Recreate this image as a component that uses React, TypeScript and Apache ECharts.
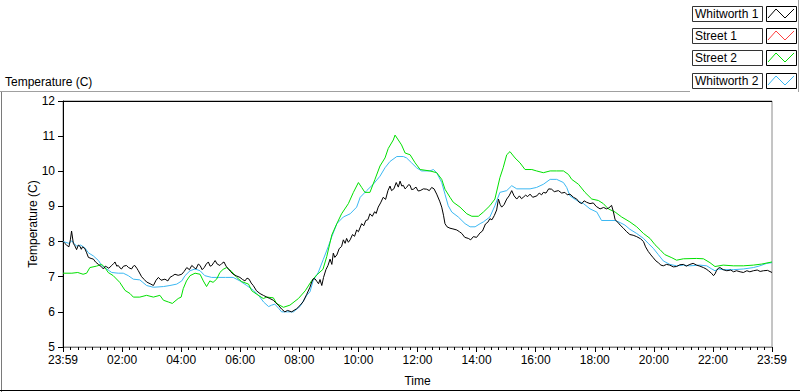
import React, { useEffect, useRef } from "react";
import * as echarts from "echarts";

const FONT = "Liberation Sans, Arial, sans-serif";

const seriesNames = ["Whitworth 1", "Street 1", "Street 2", "Whitworth 2"];
const seriesColors = ["#000000", "#ff0000", "#00e000", "#3cb8f2"];
const iconColors = ["#000000", "#ff4040", "#00e000", "#3cb8f2"];

const yTicks = [5, 6, 7, 8, 9, 10, 11, 12];
const xTickHours = [0, 2, 4, 6, 8, 10, 12, 14, 16, 18, 20, 22, 24];
const xTickLabels = ["23:59", "02:00", "04:00", "06:00", "08:00", "10:00", "12:00", "14:00", "16:00", "18:00", "20:00", "22:00", "23:59"];

// [hours after 23:59, temperature C]
const whitworth1: number[][] = [
  [0, 8.0], [0.06, 7.95], [0.12, 7.9], [0.2, 7.85], [0.25, 8.05], [0.29, 8.3], [0.35, 7.95], [0.4, 7.88], [0.46, 7.77], [0.52, 7.9],
  [0.57, 7.87], [0.62, 7.78], [0.66, 7.85], [0.74, 7.8], [0.8, 7.68], [0.86, 7.55], [0.95, 7.52], [1.03, 7.5], [1.1, 7.42],
  [1.2, 7.35], [1.28, 7.3], [1.37, 7.22], [1.43, 7.3], [1.48, 7.28], [1.55, 7.24], [1.65, 7.32], [1.72, 7.38], [1.76, 7.42],
  [1.82, 7.3], [1.87, 7.32], [1.93, 7.25], [1.98, 7.22], [2.05, 7.3], [2.15, 7.32], [2.22, 7.26], [2.32, 7.22], [2.38, 7.3],
  [2.43, 7.32], [2.5, 7.24], [2.55, 7.17], [2.66, 7.0], [2.75, 6.92], [2.83, 6.85], [2.95, 6.8], [3.06, 6.75], [3.15, 6.9],
  [3.23, 6.98], [3.32, 6.9], [3.45, 6.93], [3.55, 6.88], [3.62, 6.98], [3.7, 7.02], [3.79, 7.07], [3.9, 7.04], [4.02, 7.07],
  [4.1, 7.15], [4.19, 7.26], [4.28, 7.2], [4.36, 7.32], [4.44, 7.26], [4.5, 7.22], [4.58, 7.36], [4.64, 7.32], [4.71, 7.2],
  [4.78, 7.26], [4.85, 7.36], [4.92, 7.42], [4.98, 7.3], [5.04, 7.32], [5.1, 7.4], [5.15, 7.46], [5.22, 7.36], [5.31, 7.32],
  [5.38, 7.38], [5.45, 7.42], [5.52, 7.3], [5.6, 7.22], [5.68, 7.14], [5.76, 7.07], [5.88, 7.02], [5.99, 6.98], [6.08, 6.92],
  [6.16, 6.88], [6.23, 6.96], [6.3, 6.93], [6.37, 6.82], [6.44, 6.75], [6.55, 6.6], [6.67, 6.52], [6.78, 6.47], [6.9, 6.42],
  [7.0, 6.38], [7.12, 6.33], [7.2, 6.26], [7.29, 6.19], [7.4, 6.08], [7.51, 6.0], [7.6, 6.04], [7.74, 6.0], [7.91, 6.09],
  [8.02, 6.18], [8.13, 6.29], [8.25, 6.5], [8.36, 6.7], [8.42, 6.85], [8.47, 6.94], [8.53, 6.94], [8.6, 6.86], [8.65, 6.8],
  [8.7, 6.92], [8.76, 6.75], [8.82, 6.98], [8.9, 7.2], [8.97, 7.32], [9.04, 7.5], [9.1, 7.35], [9.15, 7.67], [9.2, 7.55],
  [9.27, 7.62], [9.35, 7.8], [9.43, 7.86], [9.49, 8.05], [9.55, 7.95], [9.6, 8.09], [9.66, 7.98], [9.72, 8.05], [9.8, 8.2],
  [9.87, 8.15], [9.94, 8.33], [10.0, 8.28], [10.11, 8.51], [10.18, 8.45], [10.25, 8.6], [10.32, 8.62], [10.39, 8.79],
  [10.47, 8.72], [10.55, 8.85], [10.6, 8.8], [10.67, 8.98], [10.75, 9.1], [10.84, 9.26], [10.92, 9.2], [11.0, 9.45],
  [11.07, 9.58], [11.12, 9.45], [11.2, 9.5], [11.28, 9.68], [11.35, 9.55], [11.41, 9.72], [11.47, 9.58], [11.52, 9.6],
  [11.58, 9.5], [11.63, 9.54], [11.7, 9.62], [11.75, 9.6], [11.8, 9.48], [11.86, 9.49], [11.95, 9.55], [12.02, 9.44],
  [12.09, 9.45], [12.2, 9.5], [12.31, 9.49], [12.4, 9.45], [12.48, 9.54], [12.56, 9.5], [12.65, 9.35], [12.75, 9.15],
  [12.82, 8.98], [12.88, 8.75], [12.93, 8.51], [13.0, 8.42], [13.1, 8.38], [13.2, 8.36], [13.33, 8.33], [13.42, 8.28],
  [13.5, 8.23], [13.6, 8.12], [13.72, 8.09], [13.8, 8.05], [13.89, 8.14], [14.0, 8.12], [14.12, 8.25], [14.2, 8.3], [14.3, 8.5],
  [14.38, 8.55], [14.45, 8.65], [14.52, 8.62], [14.6, 8.74], [14.68, 8.9], [14.74, 9.21], [14.8, 9.05], [14.85, 8.98],
  [14.93, 9.05], [15.02, 9.21], [15.1, 9.3], [15.19, 9.45], [15.27, 9.3], [15.36, 9.21], [15.45, 9.3], [15.52, 9.22],
  [15.58, 9.26], [15.66, 9.32], [15.73, 9.28], [15.81, 9.35], [15.9, 9.26], [16.04, 9.3], [16.12, 9.38], [16.2, 9.33],
  [16.26, 9.4], [16.35, 9.38], [16.44, 9.5], [16.54, 9.49], [16.63, 9.42], [16.77, 9.45], [16.88, 9.38], [16.99, 9.4],
  [17.07, 9.33], [17.16, 9.35], [17.28, 9.26], [17.39, 9.21], [17.47, 9.12], [17.56, 9.08], [17.64, 9.16], [17.72, 9.12],
  [17.84, 9.08], [17.95, 9.1], [18.05, 9.0], [18.18, 8.93], [18.3, 8.97], [18.4, 8.93], [18.48, 8.96], [18.57, 9.03],
  [18.63, 8.85], [18.69, 8.62], [18.78, 8.55], [18.86, 8.47], [18.97, 8.38], [19.08, 8.28], [19.19, 8.2], [19.3, 8.18],
  [19.42, 8.14], [19.55, 8.08], [19.65, 8.0], [19.72, 7.85], [19.81, 7.72], [19.9, 7.62], [19.98, 7.54], [20.07, 7.45],
  [20.15, 7.4], [20.24, 7.33], [20.32, 7.31], [20.43, 7.35], [20.54, 7.33], [20.66, 7.28], [20.77, 7.29], [20.88, 7.34],
  [21.0, 7.35], [21.1, 7.3], [21.22, 7.35], [21.33, 7.38], [21.45, 7.33], [21.56, 7.3], [21.68, 7.26], [21.77, 7.22],
  [21.85, 7.17], [21.95, 7.1], [22.02, 7.03], [22.07, 7.08], [22.12, 7.17], [22.18, 7.24], [22.24, 7.26], [22.35, 7.2],
  [22.47, 7.17], [22.6, 7.19], [22.7, 7.14], [22.8, 7.17], [22.92, 7.14], [23.03, 7.12], [23.15, 7.17], [23.25, 7.14],
  [23.37, 7.17], [23.5, 7.19], [23.6, 7.15], [23.71, 7.17], [23.85, 7.18], [24, 7.12],
];

const street1: number[][] = [];

const street2: number[][] = [
  [0, 7.1], [0.3, 7.1], [0.5, 7.12], [0.68, 7.07], [0.8, 7.1], [0.91, 7.26], [1.13, 7.3], [1.31, 7.35], [1.42, 7.26],
  [1.53, 7.12], [1.7, 7.03], [1.92, 6.84], [2.1, 6.61], [2.27, 6.52], [2.38, 6.42], [2.6, 6.42], [2.83, 6.47], [3.06, 6.42],
  [3.28, 6.47], [3.4, 6.33], [3.57, 6.28], [3.7, 6.24], [3.9, 6.38], [4.0, 6.42], [4.07, 6.66], [4.18, 6.88], [4.3, 7.03],
  [4.47, 7.1], [4.64, 7.07], [4.75, 6.88], [4.86, 6.72], [4.97, 6.88], [5.08, 6.84], [5.2, 6.93], [5.31, 7.12], [5.42, 7.21],
  [5.54, 7.26], [5.71, 7.15], [5.88, 6.98], [6.05, 6.86], [6.28, 6.79], [6.39, 6.6], [6.56, 6.5], [6.78, 6.38], [6.9, 6.42],
  [7.12, 6.4], [7.23, 6.24], [7.46, 6.13], [7.68, 6.19], [7.97, 6.38], [8.2, 6.6], [8.42, 6.89], [8.59, 7.05], [8.8, 7.21],
  [8.93, 7.58], [9.1, 8.19], [9.27, 8.51], [9.43, 8.79], [9.66, 9.08], [9.83, 9.4], [10.0, 9.68], [10.11, 9.54], [10.22, 9.4],
  [10.39, 9.4], [10.56, 9.77], [10.73, 10.15], [10.9, 10.38], [11.01, 10.65], [11.18, 10.89], [11.24, 11.03], [11.35, 10.89],
  [11.46, 10.75], [11.58, 10.52], [11.75, 10.47], [11.92, 10.24], [12.09, 10.05], [12.42, 10.01], [12.65, 9.96], [12.82, 9.77],
  [12.93, 9.49], [13.1, 9.26], [13.21, 9.12], [13.44, 8.98], [13.67, 8.79], [13.84, 8.72], [14.06, 8.72], [14.23, 8.84],
  [14.45, 9.02], [14.62, 9.21], [14.79, 9.82], [14.9, 10.1], [15.02, 10.47], [15.13, 10.56], [15.3, 10.38], [15.47, 10.24],
  [15.64, 10.05], [15.87, 10.05], [16.03, 10.01], [16.26, 9.96], [16.49, 10.01], [16.71, 10.01], [16.94, 10.01], [17.11, 9.91],
  [17.22, 9.77], [17.45, 9.63], [17.67, 9.4], [17.9, 9.21], [18.12, 9.17], [18.29, 9.08], [18.46, 8.93], [18.69, 8.84],
  [18.91, 8.7], [19.19, 8.56], [19.42, 8.42], [19.65, 8.23], [19.87, 8.09], [20.04, 7.91], [20.21, 7.77], [20.37, 7.63],
  [20.61, 7.54], [20.77, 7.47], [21.0, 7.51], [21.45, 7.52], [21.68, 7.51], [21.9, 7.4], [22.07, 7.29], [22.35, 7.33],
  [22.69, 7.31], [23.03, 7.31], [23.37, 7.33], [23.65, 7.36], [24, 7.42],
];

const whitworth2: number[][] = [
  [0, 8.0], [0.2, 7.95], [0.3, 8.02], [0.46, 7.87], [0.6, 7.9], [0.74, 7.82], [0.86, 7.68], [1.03, 7.59], [1.2, 7.46],
  [1.31, 7.32], [1.48, 7.22], [1.65, 7.12], [1.87, 7.1], [2.04, 7.1], [2.21, 7.03], [2.38, 6.93], [2.6, 6.91], [2.7, 6.84],
  [2.83, 6.75], [3.06, 6.7], [3.4, 6.72], [3.62, 6.75], [3.85, 6.79], [4.02, 6.88], [4.13, 7.03], [4.3, 7.17], [4.47, 7.22],
  [4.64, 7.17], [4.8, 7.03], [5.03, 6.98], [5.5, 6.98], [5.76, 6.98], [5.99, 6.88], [6.22, 6.75], [6.45, 6.61], [6.62, 6.47],
  [6.79, 6.28], [6.96, 6.15], [7.06, 6.19], [7.17, 6.22], [7.3, 6.1], [7.4, 6.0], [7.8, 6.0], [8.02, 6.15], [8.25, 6.47],
  [8.36, 6.57], [8.47, 6.89], [8.64, 7.12], [8.81, 7.49], [8.98, 7.86], [9.1, 8.14], [9.27, 8.51], [9.49, 8.7], [9.72, 8.79],
  [9.94, 8.98], [10.06, 9.26], [10.28, 9.45], [10.5, 9.63], [10.73, 9.86], [10.9, 10.1], [11.07, 10.28], [11.3, 10.42],
  [11.52, 10.42], [11.63, 10.38], [11.8, 10.24], [11.97, 10.1], [12.14, 10.01], [12.42, 10.01], [12.54, 10.05], [12.65, 9.96],
  [12.82, 9.68], [12.93, 9.35], [13.04, 9.02], [13.16, 8.84], [13.38, 8.7], [13.61, 8.51], [13.78, 8.42], [13.95, 8.42],
  [14.12, 8.51], [14.23, 8.56], [14.45, 8.7], [14.62, 9.02], [14.79, 9.4], [15.02, 9.45], [15.19, 9.59], [15.36, 9.5],
  [15.81, 9.5], [16.03, 9.54], [16.26, 9.63], [16.49, 9.77], [16.71, 9.77], [16.94, 9.68], [17.05, 9.54], [17.16, 9.3],
  [17.39, 9.17], [17.62, 9.08], [17.84, 8.93], [18.07, 8.84], [18.23, 8.6], [18.69, 8.6], [18.86, 8.54], [19.02, 8.47],
  [19.19, 8.35], [19.42, 8.23], [19.65, 8.09], [19.81, 7.95], [19.98, 7.81], [20.15, 7.63], [20.32, 7.45], [20.54, 7.35],
  [20.77, 7.31], [21.0, 7.33], [21.22, 7.31], [21.56, 7.33], [21.79, 7.31], [21.96, 7.22], [22.07, 7.17], [22.18, 7.22],
  [22.35, 7.2], [22.69, 7.2], [23.03, 7.22], [23.37, 7.26], [23.59, 7.31], [23.82, 7.38], [24, 7.4],
];

const seriesData = [whitworth1, street1, street2, whitworth2];

export default function App() {
  const ref = useRef<HTMLDivElement>(null);
  useEffect(() => {
    if (!ref.current) return;
    const chart = echarts.init(ref.current, null, { renderer: "svg" });

    const gl = { left: 63, top: 101, right: 772, bottom: 353 };

    const legendRowTops = [6, 28, 50, 73];
    const legendGraphics: any[] = [];
    seriesNames.forEach((name, i) => {
      const top = legendRowTops[i];
      legendGraphics.push({
        type: "rect",
        shape: { x: 692.5, y: top + 0.5, width: 70, height: 15 },
        style: { fill: "#fff", stroke: "#333", lineWidth: 1 },
      });
      legendGraphics.push({
        type: "text",
        x: 695,
        y: top + 8,
        style: { text: name, font: `12px ${FONT}`, fill: "#000", textVerticalAlign: "middle", textAlign: "left" },
      });
      legendGraphics.push({
        type: "rect",
        shape: { x: 766.5, y: top + 0.5, width: 30, height: 15 },
        style: { fill: "#fff", stroke: "#000", lineWidth: 1 },
      });
      legendGraphics.push({
        type: "polyline",
        shape: {
          points: [
            [768, top + 12],
            [776, top + 3],
            [785, top + 12],
            [794, top + 3],
          ],
        },
        style: { stroke: iconColors[i], lineWidth: 1, fill: null },
      });
    });

    chart.setOption({
      animation: false,
      backgroundColor: "#ffffff",
      textStyle: { fontFamily: FONT },
      grid: {
        left: gl.left,
        top: gl.top,
        right: 800 - gl.right,
        bottom: 392 - gl.bottom,
        show: true,
        borderColor: "#8a8a8a",
        borderWidth: 1,
        backgroundColor: "#ffffff",
      },
      xAxis: {
        type: "value",
        min: 0,
        max: 24,
        interval: 2,
        name: "Time",
        nameLocation: "middle",
        nameGap: 28,
        nameMoveOverlap: false,
        nameTextStyle: { fontSize: 12, color: "#000", fontFamily: FONT },
        axisLine: { show: true, lineStyle: { color: "#808080", width: 1 } },
        axisTick: { show: true, length: 5, lineStyle: { color: "#000" } },
        minorTick: { show: true, splitNumber: 8, length: 3, lineStyle: { color: "#000" } },
        splitLine: { show: false },
        axisLabel: {
          fontSize: 12,
          color: "#000",
          margin: 7,
          fontFamily: FONT,
          formatter: (v: number) => {
            const idx = xTickHours.indexOf(v);
            return idx >= 0 ? xTickLabels[idx] : "";
          },
        },
      },
      yAxis: {
        type: "value",
        min: 5,
        max: 12,
        interval: 1,
        name: "Temperature (C)",
        nameLocation: "middle",
        nameGap: 24,
        nameMoveOverlap: false,
        nameTextStyle: { fontSize: 12, color: "#000", fontFamily: FONT },
        axisLine: { show: true, lineStyle: { color: "#000", width: 1 } },
        axisTick: { show: true, length: 5, lineStyle: { color: "#000" } },
        splitLine: { show: false },
        axisLabel: {
          fontSize: 12,
          color: "#000",
          margin: 8,
          fontFamily: FONT,
          formatter: (v: number) => (yTicks.indexOf(v) >= 0 ? String(v) : ""),
        },
      },
      series: seriesNames.map((name, i) => ({
        name,
        type: "line",
        data: seriesData[i],
        showSymbol: false,
        symbol: "none",
        lineStyle: { color: seriesColors[i], width: 1 },
        itemStyle: { color: seriesColors[i] },
        z: 10 - i,
      })),
      graphic: [
        // outer frame
        { type: "line", shape: { x1: 0, y1: 91.5, x2: 690, y2: 91.5 }, style: { stroke: "#a0a0a0", lineWidth: 1 } },
        { type: "line", shape: { x1: 1.5, y1: 92, x2: 1.5, y2: 392 }, style: { stroke: "#7a7a7a", lineWidth: 1 } },
        { type: "line", shape: { x1: 0, y1: 390.5, x2: 800, y2: 390.5 }, style: { stroke: "#000", lineWidth: 1 } },
        { type: "line", shape: { x1: 798.5, y1: 0, x2: 798.5, y2: 92 }, style: { stroke: "#a0a0a0", lineWidth: 1 } },
        // top plot border in black
        { type: "line", shape: { x1: gl.left, y1: gl.top + 0.5, x2: gl.right, y2: gl.top + 0.5 }, style: { stroke: "#000", lineWidth: 1 }, z: 50 },
        // title
        {
          type: "text",
          x: 5,
          y: 82,
          style: { text: "Temperature (C)", font: `12px ${FONT}`, fill: "#000", textVerticalAlign: "middle" },
        },
        ...legendGraphics,
      ],
    });
    return () => chart.dispose();
  }, []);
  return <div ref={ref} style={{ width: 800, height: 392, position: "absolute", left: 0, top: 0 }} />;
}
